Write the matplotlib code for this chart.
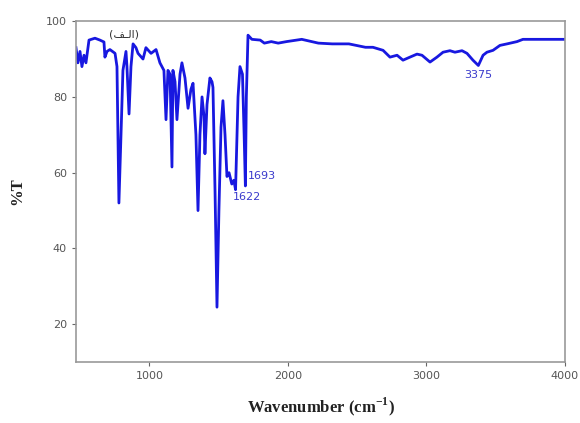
import matplotlib
matplotlib.use("Agg")
from matplotlib import pyplot as plt
import numpy as np

# FTIR spectrum (wavenumber in cm-1, transmittance in %)
wavenumber = [470, 484, 499, 513, 528, 542, 564, 607, 643, 672, 679, 694, 715,
              752, 766, 780, 795, 809, 831, 838, 853, 867, 882, 903, 918, 954,
              975, 1012, 1048, 1076, 1105, 1120, 1134, 1149, 1163, 1170, 1185,
              1199, 1221, 1235, 1257, 1279, 1300, 1315, 1336, 1351, 1365, 1380,
              1394, 1401, 1416, 1437, 1452, 1459, 1474, 1488, 1502, 1517, 1531,
              1546, 1560, 1575, 1595, 1610, 1622, 1640, 1654, 1672, 1684, 1693,
              1700, 1712, 1740, 1800, 1830, 1880, 1930, 1990, 2100, 2220, 2320,
              2440, 2560, 2614, 2687, 2737, 2788, 2831, 2881, 2932, 2968, 3026,
              3076, 3120, 3170, 3206, 3257, 3293, 3336, 3375, 3409, 3437, 3481,
              3531, 3582, 3654, 3697, 4000]
transmittance = [93, 89, 92, 88, 91, 89, 95, 95.5, 95, 94.5, 90.5, 92, 92.5,
                 91.5, 88, 52, 70, 87, 92, 88, 75.5, 88, 94, 93, 91.5, 90,
                 93, 91.5, 92.5, 89, 87, 74, 87, 86, 61.5, 87, 84,
                 74, 86, 89, 85, 77, 82, 83.6, 70, 50, 70, 80,
                 75, 65, 78, 85, 84, 82.5, 55, 24.5, 50, 72, 79,
                 70, 59, 60, 57, 58, 55.5, 80, 88, 86, 70, 56.5,
                 80, 96.3, 95.2, 95, 94.2, 94.6, 94.2, 94.6, 95.2, 94.2, 94,
                 94, 93.1, 93.1, 92.3, 90.5, 91, 89.7, 90.5, 91.3, 91, 89.2,
                 90.5, 91.8, 92.2, 91.8, 92.2, 91.5, 89.7, 88.3, 91, 91.8, 92.3,
                 93.6, 94, 94.6, 95.2, 95.2]

peak_labels = ["1693", "1622", "3375"]

plt.rcParams['mathtext.fontset'] = 'custom'
plt.rcParams['mathtext.rm'] = 'Liberation Serif:bold'
plt.rcParams['mathtext.bf'] = 'Liberation Serif:bold'

fig = plt.figure(figsize=(5.8, 4.23), dpi=100)
ax = fig.add_axes([0.131, 0.144, 0.843, 0.806])

ax.plot(wavenumber, transmittance, color='#1818e0', linewidth=2.0)

ax.set_xlim(470, 4000)
ax.set_ylim(10, 100)
ax.set_xticks([1000, 2000, 3000, 4000])
ax.set_yticks([20, 40, 60, 80, 100])
ax.tick_params(direction='out', length=3, labelsize=8, colors='#666666',
               labelcolor='#555555')
for s in ax.spines.values():
    s.set_color('#999999')
    s.set_linewidth(1.2)

ax.set_xlabel('Wavenumber (cm$^{\\mathrm{-1}}$)', family='Liberation Serif',
              fontweight='bold', fontsize=12, color='#222222', labelpad=10)
ax.set_ylabel('%T', family='Liberation Serif', fontweight='bold', fontsize=12,
              color='#222222', labelpad=15)

# peak labels
lab_col = '#3a3acc'
ax.text(1712, 59, peak_labels[0], color=lab_col, fontsize=8, va='center', ha='left')
ax.text(1600, 53.5, peak_labels[1], color=lab_col, fontsize=8, va='center', ha='left')
ax.text(3375, 85.8, peak_labels[2], color=lab_col, fontsize=8, va='center', ha='center')

# spectrum tag (Arabic "alef"), written in visual order with presentation forms
ax.text(820, 96.5, '(\uFED2\u0640\uFEDF\uFE8D)', family=['DejaVu Sans'],
        color='#333333', fontsize=8, ha='center', va='center')

fig.savefig('out.png', dpi=100)
